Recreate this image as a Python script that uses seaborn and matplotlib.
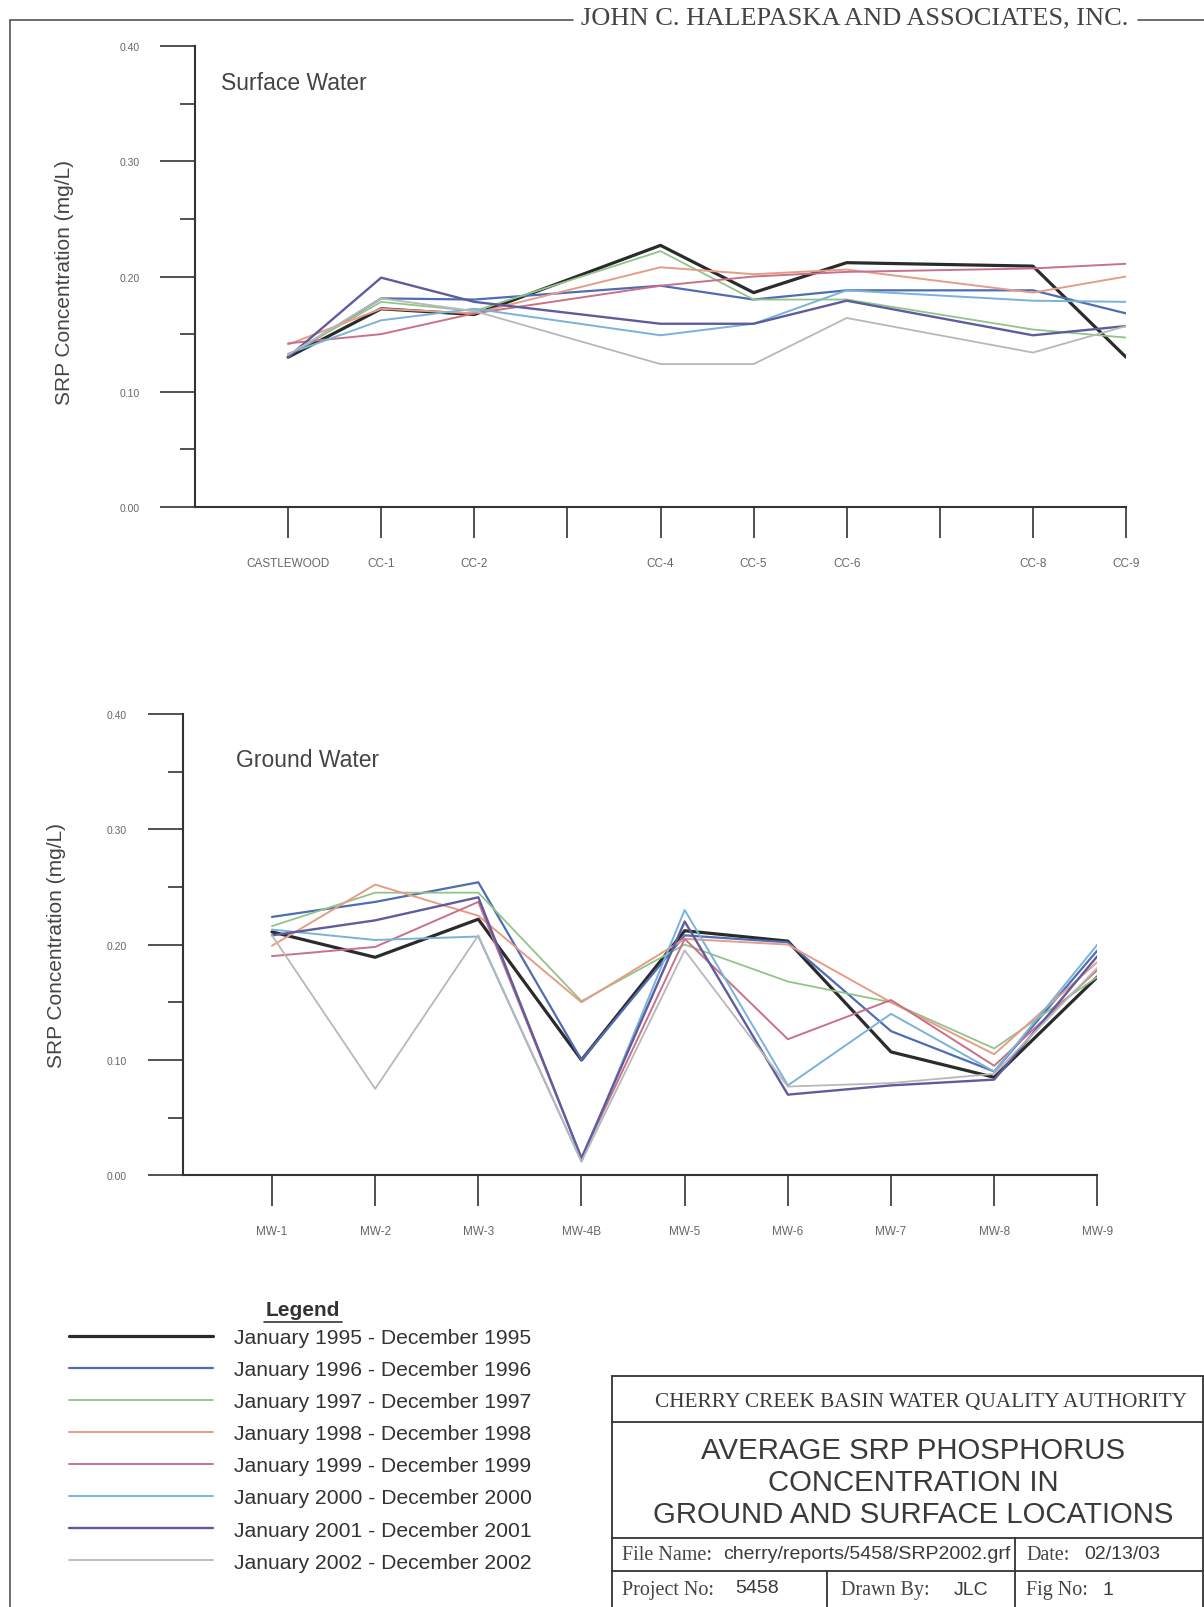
import pandas as pd
import seaborn as sns
import matplotlib.pyplot as plt
from matplotlib.lines import Line2D
from matplotlib.ticker import MultipleLocator, FormatStrFormatter

sns.set_style("white")
plt.rcParams['font.family'] = ['Liberation Sans', 'DejaVu Sans']

W, H = 1204, 1608

# sampling periods (legend order)
periods = ["January 1995 - December 1995", "January 1996 - December 1996",
           "January 1997 - December 1997", "January 1998 - December 1998",
           "January 1999 - December 1999", "January 2000 - December 2000",
           "January 2001 - December 2001", "January 2002 - December 2002"]
period_colors = ["#2b2b2b", "#4f6db3", "#92c48a", "#e59d88",
                 "#c9718a", "#79b3d9", "#5f5c9e", "#b8b8b8"]
period_widths = [2.3, 1.6, 1.3, 1.4, 1.4, 1.4, 1.7, 1.3]

# surface water stations - CC-3 and CC-7 have a tick but no label / data
surface_axis = ["CASTLEWOOD", "CC-1", "CC-2", "CC-3", "CC-4", "CC-5", "CC-6", "CC-7", "CC-8", "CC-9"]
surface_unlabeled = ["CC-3", "CC-7"]
surface_sites = ["CASTLEWOOD", "CC-1", "CC-2", "CC-4", "CC-5", "CC-6", "CC-8", "CC-9"]
surface_1995 = [0.130, 0.172, 0.167, 0.227, 0.186, 0.212, 0.209, 0.130]
surface_1996 = [0.131, 0.181, 0.180, 0.192, 0.180, 0.188, 0.188, 0.168]
surface_1997 = [0.132, 0.178, 0.170, 0.222, 0.180, 0.180, 0.154, 0.147]
surface_1998 = [0.141, 0.172, 0.168, 0.208, 0.202, 0.206, 0.186, 0.200]
surface_1999 = [0.142, 0.150, 0.168, 0.192, 0.200, 0.204, 0.207, 0.211]
surface_2000 = [0.133, 0.162, 0.172, 0.149, 0.159, 0.188, 0.179, 0.178]
surface_2001 = [0.130, 0.199, 0.178, 0.159, 0.159, 0.179, 0.149, 0.157]
surface_2002 = [0.132, 0.181, 0.170, 0.124, 0.124, 0.164, 0.134, 0.157]

# ground water wells
ground_sites = ["MW-1", "MW-2", "MW-3", "MW-4B", "MW-5", "MW-6", "MW-7", "MW-8", "MW-9"]
ground_1995 = [0.211, 0.189, 0.222, 0.100, 0.212, 0.203, 0.107, 0.085, 0.172]
ground_1996 = [0.224, 0.237, 0.254, 0.100, 0.208, 0.202, 0.125, 0.090, 0.195]
ground_1997 = [0.216, 0.245, 0.245, 0.151, 0.200, 0.168, 0.150, 0.110, 0.172]
ground_1998 = [0.199, 0.252, 0.225, 0.150, 0.205, 0.200, 0.150, 0.105, 0.185]
ground_1999 = [0.190, 0.198, 0.237, 0.015, 0.205, 0.118, 0.152, 0.095, 0.178]
ground_2000 = [0.213, 0.204, 0.207, 0.012, 0.230, 0.078, 0.140, 0.090, 0.200]
ground_2001 = [0.208, 0.221, 0.241, 0.015, 0.220, 0.070, 0.078, 0.083, 0.190]
ground_2002 = [0.208, 0.075, 0.208, 0.012, 0.195, 0.077, 0.080, 0.088, 0.180]

surface_series = [surface_1995, surface_1996, surface_1997, surface_1998,
                  surface_1999, surface_2000, surface_2001, surface_2002]
ground_series = [ground_1995, ground_1996, ground_1997, ground_1998,
                 ground_1999, ground_2000, ground_2001, ground_2002]


def to_long(sites, axis_sites, series):
    rows = []
    for period, vals in zip(periods, series):
        for site, v in zip(sites, vals):
            rows.append((period, axis_sites.index(site) + 1, v))
    return pd.DataFrame(rows, columns=["period", "pos", "srp"])


surface_df = to_long(surface_sites, surface_axis, surface_series)
ground_df = to_long(ground_sites, ground_sites, ground_series)

palette = dict(zip(periods, period_colors))
sizes = dict(zip(periods, period_widths))

fig = plt.figure(figsize=(W / 100, H / 100), dpi=100)
fig.patch.set_facecolor("white")

ink = "#333333"
tick_font = ['Liberation Sans Narrow', 'Liberation Sans']


def axes_px(left, top, right, bottom):
    return fig.add_axes([left / W, 1 - bottom / H, (right - left) / W, (bottom - top) / H])


def draw_panel(ax, df, axis_sites, unlabeled, xlim, title, title_xy, ylabel_xy):
    sns.lineplot(data=df, x="pos", y="srp", hue="period", size="period",
                 hue_order=periods, size_order=periods, palette=palette, sizes=sizes,
                 estimator=None, sort=False, legend=False, ax=ax)
    ax.set_xlim(*xlim)
    ax.set_ylim(0, 0.40)
    sns.despine(ax=ax)
    for s in ["left", "bottom"]:
        ax.spines[s].set_color(ink)
        ax.spines[s].set_linewidth(1.5)
    ax.set_facecolor("none")

    ax.yaxis.set_major_locator(MultipleLocator(0.10))
    ax.yaxis.set_minor_locator(MultipleLocator(0.05))
    ax.yaxis.set_major_formatter(FormatStrFormatter("%.2f"))
    ax.set_xticks(range(1, len(axis_sites) + 1))
    ax.set_xticklabels(["" if s in unlabeled else s for s in axis_sites])
    ax.tick_params(axis="y", which="major", direction="out", length=25, width=1.2,
                   color=ink, pad=15, labelsize=7.5, labelcolor="#666666", left=True)
    ax.tick_params(axis="y", which="minor", direction="out", length=11, width=1.2,
                   color=ink, left=True)
    ax.tick_params(axis="x", which="major", direction="out", length=22, width=1.2,
                   color=ink, pad=14, labelsize=8.5, labelcolor="#666666", bottom=True)
    for lab in ax.get_xticklabels() + ax.get_yticklabels():
        lab.set_family(tick_font)

    ax.set_xlabel("")
    ax.set_ylabel("SRP Concentration (mg/L)", fontsize=15, color="#444444")
    ax.yaxis.set_label_coords(*ylabel_xy)
    ax.text(title_xy[0], title_xy[1], title, transform=ax.transAxes,
            fontsize=16.5, color="#444444", va="center", ha="left")


ax_top = axes_px(195, 47, 1126, 508)
draw_panel(ax_top, surface_df, surface_axis, surface_unlabeled, (0, 10),
           "Surface Water", (0.028, 0.92), (-0.130, 0.49))

ax_bot = axes_px(182.6, 714.8, 1097.4, 1176.4)
draw_panel(ax_bot, ground_df, ground_sites, [], (0.134, 9.0),
           "Ground Water", (0.058, 0.90), (-0.128, 0.50))


def fx(x):
    return x / W


def fy(y):
    return 1 - y / H


def fig_line(x0, y0, x1, y1, lw=1.2, color="#555555"):
    fig.add_artist(Line2D([fx(x0), fx(x1)], [fy(y0), fy(y1)], transform=fig.transFigure,
                          color=color, lw=lw))


# page frame and company header
fig_line(10, 21, 10, H, lw=1.2)
fig_line(10, 21, 573, 21, lw=1.2)
fig_line(1138, 21, W, 21, lw=1.2)
fig.text(fx(581), fy(24), "JOHN C. HALEPASKA AND ASSOCIATES, INC.", family="Liberation Serif",
         fontsize=19, color="#444444", va="baseline", ha="left")

# legend
fig.text(fx(303), fy(1311), "Legend", fontsize=15, fontweight="bold", color=ink,
         ha="center", va="center")
fig_line(264, 1323, 342, 1323, lw=1.2, color=ink)
fig.legend(ax_top.lines[:len(periods)], periods, loc="upper left",
           bbox_to_anchor=(fx(69), fy(1329)), frameon=False, fontsize=15.2,
           handlelength=6.8, handletextpad=1.0, labelspacing=0.62,
           borderpad=0, borderaxespad=0, labelcolor=ink)

# title block
tb_left, tb_right = 612, 1203
fig_line(tb_left, 1377, tb_right, 1377, lw=1.3, color=ink)
fig_line(tb_left, 1423, tb_right, 1423, lw=1.3, color=ink)
fig_line(tb_left, 1538.5, tb_right, 1538.5, lw=1.3, color=ink)
fig_line(tb_left, 1572.4, tb_right, 1572.4, lw=1.3, color=ink)
fig_line(tb_left, 1377, tb_left, H, lw=1.3, color=ink)
fig_line(tb_right, 1377, tb_right, H, lw=1.3, color=ink)
fig_line(1015, 1538.5, 1015, H, lw=1.3, color=ink)
fig_line(827, 1572.4, 827, H, lw=1.3, color=ink)

fig.text(fx(921), fy(1403), "CHERRY CREEK BASIN WATER QUALITY AUTHORITY",
         family="Liberation Serif", fontsize=15.3, color="#3a3a3a", ha="center", va="center")
for y, line in zip([1451, 1483, 1515],
                   ["AVERAGE SRP PHOSPHORUS", "CONCENTRATION IN", "GROUND AND SURFACE LOCATIONS"]):
    fig.text(fx(913), fy(y), line, fontsize=21.2, color="#3a3a3a", ha="center", va="center")

serif_labels = [(622, 1556, "File Name:"), (1026, 1556, "Date:"),
                (622, 1591, "Project No:"), (841, 1591, "Drawn By:"), (1026, 1591, "Fig No:")]
for x, y, t in serif_labels:
    fig.text(fx(x), fy(y), t, family="Liberation Serif", fontsize=14.5, color="#444444",
             ha="left", va="center")
sans_values = [(723, 1555, "cherry/reports/5458/SRP2002.grf"), (1084, 1555, "02/13/03"),
               (735, 1589, "5458"), (954, 1591, "JLC"), (1103, 1591, "1")]
for x, y, t in sans_values:
    fig.text(fx(x), fy(y), t, fontsize=14, color="#3a3a3a", ha="left", va="center")

fig.savefig("out.png", dpi=100, facecolor="white")
